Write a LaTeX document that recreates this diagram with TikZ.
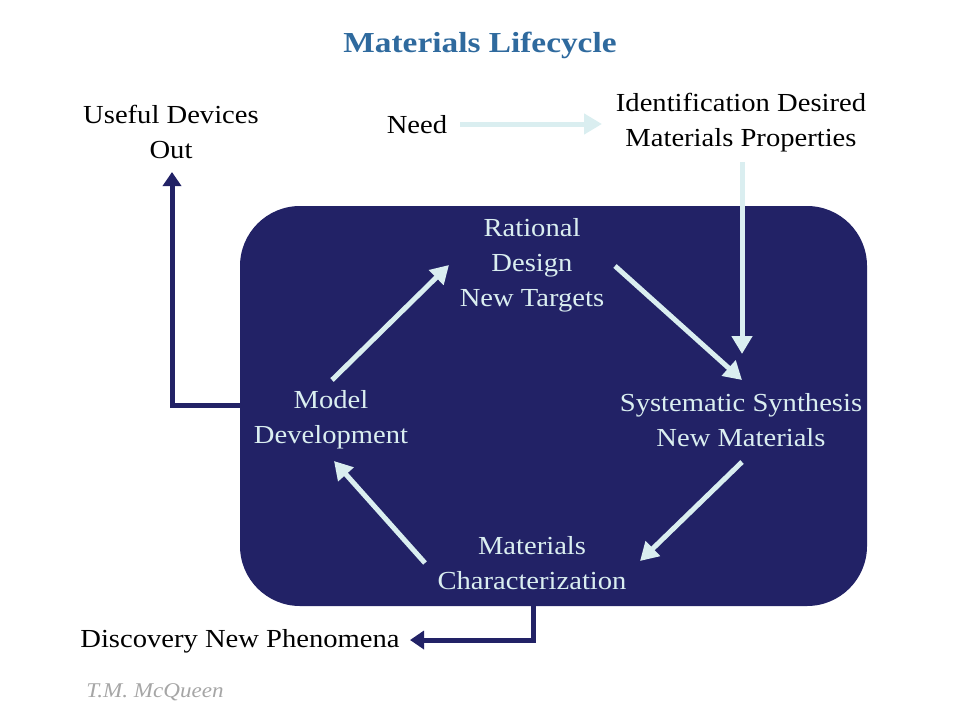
\documentclass[tikz,border=0pt]{standalone}
\usepackage{fontspec}
\setmainfont{Liberation Serif}[FakeStretch=1.10]
\newfontfamily\titlefont{Liberation Serif}[FakeStretch=1.15]
\usetikzlibrary{arrows.meta}
\definecolor{navy}{HTML}{222266}
\definecolor{pale}{HTML}{DAEEF0}
\definecolor{titleblue}{HTML}{2F6A9E}
\begin{document}
\begin{tikzpicture}[x=1pt,y=-1pt,
  lbl/.style={align=center,font=\fontsize{26}{35}\selectfont,inner sep=0pt},
  inlbl/.style={lbl,text=pale},
  palearrow/.style={draw=pale,line width=5pt,-{Triangle[length=18pt,width=20pt]}},
  darkarrow/.style={draw=navy,line width=5pt,-{Triangle[length=14pt,width=18pt]}}]
\useasboundingbox (0,0) rectangle (960,720);
\node[fill=navy,rounded corners=60pt,minimum width=627pt,minimum height=400pt,inner sep=0pt] (box) at (553.5,406) {};
\node[font=\titlefont\fontsize{29}{32}\selectfont\bfseries,text=titleblue] (title) at (480,45) {Materials Lifecycle};
\node[lbl] (useful) at (171,132) {Useful Devices\\Out};
\node[lbl] (need) at (417,125) {Need};
\node[lbl] (ident) at (741,123) {Identification Desired\\Materials Properties};
\node[inlbl] (rational) at (532,265) {Rational\\Design\\New Targets};
\node[inlbl] (model) at (331,420) {Model\\Development};
\node[inlbl] (synth) at (741,420) {Systematic Synthesis\\New Materials};
\node[inlbl] (charac) at (532,563) {Materials\\Characterization};
\node[lbl] (disc) at (240,641) {Discovery New Phenomena};
\node[font=\fontsize{21}{24}\selectfont\itshape,text=black!35] (author) at (155,692) {T.M. McQueen};
\coordinate (n1) at (460,124); \coordinate (n2) at (602,124);
\coordinate (i1) at (742,162); \coordinate (i2) at (742,354);
\coordinate (r1) at (615,266); \coordinate (r2) at (742,380);
\coordinate (m1) at (332,380); \coordinate (m2) at (449,265);
\coordinate (s1) at (742,462); \coordinate (s2) at (640,561);
\coordinate (c1) at (425,563); \coordinate (c2) at (334,461);
\draw[palearrow] (n1) -- (n2);
\draw[palearrow] (i1) -- (i2);
\draw[palearrow] (r1) -- (r2);
\draw[palearrow] (m1) -- (m2);
\draw[palearrow] (s1) -- (s2);
\draw[palearrow] (c1) -- (c2);
\coordinate (u0) at (240,405); \coordinate (u1) at (172,405); \coordinate (u2) at (172,172);
\draw[darkarrow] (u0) -- (u1) -- (u2);
\coordinate (d0) at (533,604); \coordinate (d1) at (533,640); \coordinate (d2) at (410,640);
\draw[darkarrow] (d0) -- (d1) -- (d2);
\end{tikzpicture}
\end{document}
